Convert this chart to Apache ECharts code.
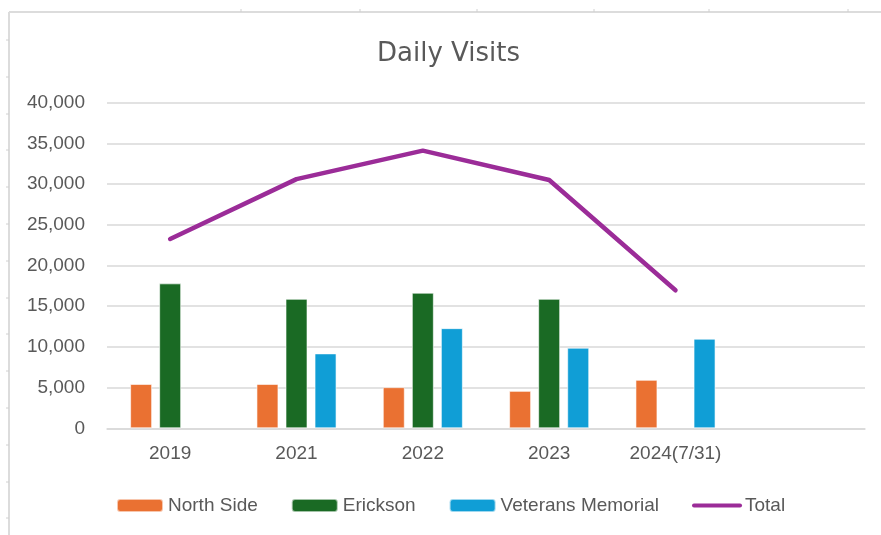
<!DOCTYPE html>
<html>
<head>
    <meta charset="UTF-8">
    <script src="https://cdn.jsdelivr.net/npm/echarts@6/dist/echarts.min.js"></script>
    <style>
        html, body { margin: 0; padding: 0; background: #fff; }
        #chart { width: 881px; height: 535px; }
    </style>
</head>
<body>
<div id="chart"></div>
<script>
    var categories = ['2019', '2021', '2022', '2023', '2024(7/31)', ''];
    var northSide = [5450, 5450, 5050, 4600, 5950, null];
    var erickson = [17800, 15900, 16650, 15900, null, null];
    var veterans = [null, 9200, 12300, 9900, 11000, null];
    var total = [23250, 30600, 34100, 30500, 16950, null];
    var yTicks = [0, 5000, 10000, 15000, 20000, 25000, 30000, 35000, 40000];

    var grey = '#595959';

    // sheet border behind the chart (cell lines)
    var frame = [
        { type: 'line', shape: { x1: 9, y1: 12, x2: 881, y2: 12 }, style: { stroke: '#dcdcdc', lineWidth: 2 } },
        { type: 'line', shape: { x1: 9, y1: 12, x2: 9, y2: 535 }, style: { stroke: '#dcdcdc', lineWidth: 2 } }
    ];
    [241, 360, 477, 594, 709, 848].forEach(function (x) {
        frame.push({ type: 'line', shape: { x1: x, y1: 9, x2: x, y2: 12 }, style: { stroke: '#d0d0d0', lineWidth: 1 } });
    });
    for (var k = 0; k < 14; k++) {
        var y = Math.round(40 + 36.8 * k);
        frame.push({ type: 'line', shape: { x1: 6, y1: y, x2: 9, y2: y }, style: { stroke: '#d0d0d0', lineWidth: 1 } });
    }

    var chart = echarts.init(document.getElementById('chart'));
    chart.setOption({
        animation: false,
        backgroundColor: '#fff',
        graphic: frame,
        title: {
            text: 'Daily Visits',
            left: 377,
            top: 41,
            padding: 0,
            textStyle: { fontFamily: 'DejaVu Sans', fontSize: 26, fontWeight: 'normal', color: grey }
        },
        grid: { left: 107, right: 16, top: 102.6, bottom: 106.7, containLabel: false },
        legend: {
            data: ['North Side', 'Erickson', 'Veterans Memorial',
                { name: 'Total', itemStyle: { opacity: 0, borderWidth: 0 }, lineStyle: { width: 4, cap: 'round' } }],
            left: 111,
            top: 491,
            itemWidth: 46,
            itemHeight: 13,
            itemGap: 33,
            textStyle: { fontFamily: 'Liberation Sans', fontSize: 19, color: grey }
        },
        xAxis: {
            type: 'category',
            data: categories,
            axisLine: { lineStyle: { color: '#d9d9d9', width: 1.5 } },
            axisTick: { show: false },
            axisLabel: { margin: 16, fontFamily: 'Liberation Sans', fontSize: 19, color: grey }
        },
        yAxis: {
            type: 'value',
            min: yTicks[0],
            max: yTicks[yTicks.length - 1],
            interval: yTicks[1] - yTicks[0],
            axisLine: { show: false },
            axisTick: { show: false },
            splitLine: { lineStyle: { color: '#d9d9d9', width: 1.5 } },
            axisLabel: {
                margin: 22,
                fontFamily: 'Liberation Sans',
                fontSize: 19,
                color: grey,
                formatter: function (v) { return v.toLocaleString('en-US'); }
            }
        },
        series: [
            { name: 'North Side', type: 'bar', data: northSide, barWidth: 22, barGap: '32%',
              itemStyle: { color: '#EA7132', borderColor: 'rgba(255,255,255,0.6)', borderWidth: 1 } },
            { name: 'Erickson', type: 'bar', data: erickson, barWidth: 22, barGap: '32%',
              itemStyle: { color: '#1A6A24', borderColor: 'rgba(255,255,255,0.6)', borderWidth: 1 } },
            { name: 'Veterans Memorial', type: 'bar', data: veterans, barWidth: 22, barGap: '32%',
              itemStyle: { color: '#109ED6', borderColor: 'rgba(255,255,255,0.6)', borderWidth: 1 } },
            { name: 'Total', type: 'line', data: total, symbol: 'none', connectNulls: false,
              lineStyle: { color: '#9B2C98', width: 4.5, cap: 'round', join: 'round' },
              itemStyle: { color: '#9B2C98' } }
        ]
    });
</script>
</body>
</html>
